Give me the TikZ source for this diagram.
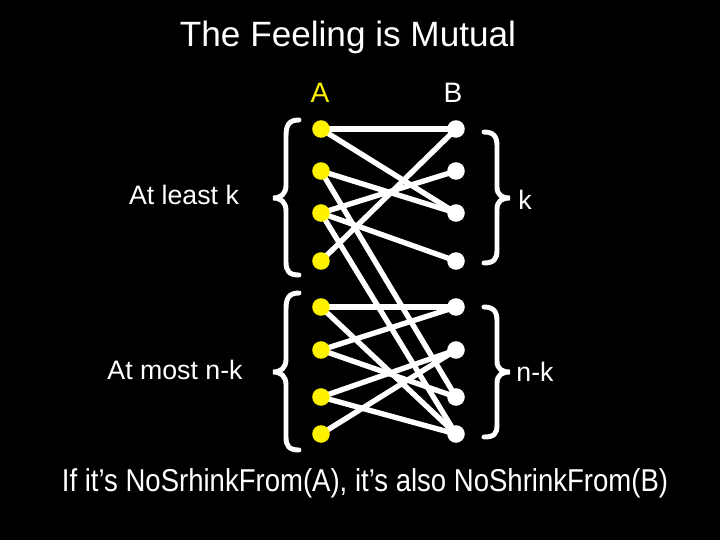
\documentclass[tikz,border=0pt]{standalone}
\usepackage{fontspec}
\setmainfont{Liberation Sans}
\newfontfamily\narrowsans{Liberation Sans}[FakeStretch=0.87]
\usetikzlibrary{backgrounds}

\tikzset{
  adot/.style={circle, fill=yellow, inner sep=0, minimum size=12.5pt},
  bdot/.style={circle, fill=white, inner sep=0, minimum size=12.5pt},
  match/.style={draw=white, line width=3.8pt},
  curly/.style={draw=white, line width=3.5pt, line cap=round},
  txt/.style={text=white, inner sep=0},
}

\begin{document}
\begin{tikzpicture}[x=0.025cm, y=-0.025cm]
  \useasboundingbox (0,0) rectangle (720,540);

  % the two sides of the matching
  \foreach \i/\y in {1/129, 2/171, 3/213, 4/261, 5/307, 6/350, 7/397, 8/434}
  {
    \node[adot] (a\i) at (321,\y) {};
    \node[bdot] (b\i) at (456,\y) {};
  }

  \begin{scope}[on background layer]
    \fill[black] (0,0) rectangle (720,540);
    \foreach \p/\q in {1/1, 1/3, 2/3, 2/7, 3/2, 3/4, 3/8, 4/1,
                       5/5, 5/8, 6/5, 6/7, 7/6, 7/8, 8/6}
    {
      \draw[match] (a\p.center) -- (b\q.center);
    }
  \end{scope}

  % titles
  \node[txt, font=\fontsize{25}{30}\selectfont] (title) at (348,37) {The Feeling is Mutual};
  \node[txt, text=yellow, font=\fontsize{20}{24}\selectfont] (sideA) at (320,93) {A};
  \node[txt, font=\fontsize{20}{24}\selectfont] (sideB) at (453,93) {B};

  % braces on the left
  \draw[curly] (299,120) .. controls (289,120) and (286,125) .. (286,136) -- (286,185)
    .. controls (286,194) and (281,198) .. (273,198)
    .. controls (281,198) and (286,202) .. (286,211) -- (286,262)
    .. controls (286,271) and (289,275) .. (299,275);
  \draw[curly] (299,293) .. controls (289,293) and (286,298) .. (286,309) -- (286,359)
    .. controls (286,368) and (281,372) .. (273,372)
    .. controls (281,372) and (286,376) .. (286,385) -- (286,437)
    .. controls (286,446) and (289,450) .. (299,450);

  % braces on the right
  \draw[curly] (484,132) .. controls (494,132) and (497,137) .. (497,146) -- (497,187)
    .. controls (497,195) and (502,198) .. (510,198)
    .. controls (502,198) and (497,201) .. (497,209) -- (497,250)
    .. controls (497,259) and (494,263) .. (484,263);
  \draw[curly] (484,307) .. controls (494,307) and (497,312) .. (497,321) -- (497,361)
    .. controls (497,369) and (502,372) .. (510,372)
    .. controls (502,372) and (497,375) .. (497,383) -- (497,425)
    .. controls (497,434) and (494,437) .. (484,437);

  \node[txt, font=\fontsize{19}{23}\selectfont] (least) at (184,195) {At least k};
  \node[txt, font=\fontsize{19}{23}\selectfont] (most) at (175,370) {At most n-k};
  \node[txt, font=\fontsize{19}{23}\selectfont] (kk) at (525,200) {k};
  \node[txt, font=\fontsize{19}{23}\selectfont] (nk) at (535,372) {n-k};

  \node[txt, font=\narrowsans\fontsize{22.5}{27}\selectfont] (claim) at (365,483)
    {If it’s NoSrhinkFrom(A), it’s also NoShrinkFrom(B)};
\end{tikzpicture}
\end{document}
